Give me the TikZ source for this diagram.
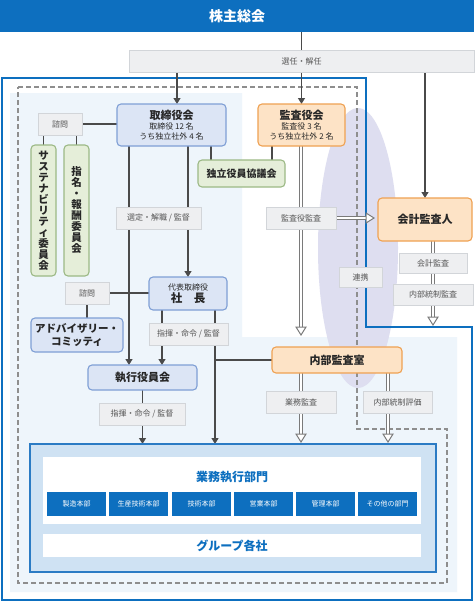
\documentclass[tikz,border=0pt]{standalone}
\usepackage{fontspec}
\setmainfont{Noto Sans CJK JP}
\usetikzlibrary{calc,arrows.meta}
\definecolor{mainblue}{HTML}{0D6FBF}
\definecolor{pale}{HTML}{EEF5FB}
\definecolor{lav}{HTML}{DEDEF0}
\definecolor{dashgray}{HTML}{8E8E8E}
\definecolor{lblfill}{HTML}{EEEFF1}
\definecolor{lbldraw}{HTML}{D2D5D9}
\definecolor{lbltxt}{HTML}{555555}
\definecolor{txt}{HTML}{262626}
\definecolor{bfill}{HTML}{DCE5F5}
\definecolor{bdraw}{HTML}{7F9FD5}
\definecolor{gfill}{HTML}{E5EED9}
\definecolor{gdraw}{HTML}{9CB985}
\definecolor{ofill}{HTML}{FDE3C6}
\definecolor{odraw}{HTML}{EFA152}
\definecolor{lineg}{HTML}{4A4A4A}
\definecolor{dblg}{HTML}{7A7A7A}
\definecolor{gyfill}{HTML}{CFE2F3}
\definecolor{gydraw}{HTML}{2B7BC4}
\pgfdeclarelayer{back}
\pgfdeclarelayer{bg}
\pgfsetlayers{back,bg,main}
\newcommand\hollowarr[2]{%
  \coordinate (has) at (#1);
  \coordinate (hae) at (#2);
  \coordinate (hab) at ($(hae)!8pt!(has)$);
  \draw[dbl] (has) -- (hab);
  \draw[htip] (hae) -- ($(hab)!5pt!90:(hae)$) -- ($(hab)!5pt!-90:(hae)$) -- cycle;}
\tikzset{
  sz/.style args={#1x#2}{minimum width=#1pt, minimum height=#2pt},
  base/.style={inner sep=0pt, outer sep=0pt, align=center, text=txt},
  lbl/.style={base, fill=lblfill, draw=lbldraw, line width=0.8pt, text=lbltxt, font=\fontsize{8}{9.5}\selectfont},
  bbox/.style={base, fill=bfill, draw=bdraw, line width=1.1pt, rounded corners=4pt},
  gbox/.style={base, fill=gfill, draw=gdraw, line width=1.1pt, rounded corners=4pt},
  obox/.style={base, fill=ofill, draw=odraw, line width=1.1pt, rounded corners=4pt},
  ttl/.style={font=\bfseries\fontsize{11}{13}\selectfont},
  vert/.style={font=\bfseries\fontsize{10.5}{11}\selectfont},
  dept/.style={base, fill=mainblue, text=white, sz=59x24, font=\fontsize{7}{8}\selectfont},
  ln/.style={draw=lineg, line width=1.2pt},
  arr/.style={ln, -{Triangle[length=6pt,width=7pt]}},
  dbl/.style={draw=dblg, line width=1pt, double=white, double distance=1.6pt},
  htip/.style={draw=dblg, line width=1pt, fill=white, line join=miter},
}
\begin{document}
\begin{tikzpicture}[x=1pt,y=-1pt]
\useasboundingbox (0,0) rectangle (474,602);
\begin{pgfonlayer}{back}
\fill[white] (0,0) rectangle (474,602);
\fill[pale] (10,93) -- (242,93) -- (242,337) -- (457,337) -- (457,592) -- (10,592) -- cycle;
\fill[lav] (358,248) ellipse [x radius=40, y radius=140];
\draw[mainblue, line width=2pt] (2,78) -- (366,78) -- (366,327) -- (472,327) -- (472,600) -- (2,600) -- cycle;
\draw[dashgray, line width=1.8pt, dash pattern=on 5pt off 3pt] (18,87) -- (357,87) -- (357,429) -- (447,429) -- (447,583) -- (18,583) -- cycle;
\end{pgfonlayer}

% top
\node[base, fill=mainblue, text=white, sz=474x32, font=\bfseries\fontsize{14}{16}\selectfont] (top) at (237,16) {株主総会};
\node[lbl, sz=345x22] (elect) at (301.5,61) {選任・解任};

% board side
\node[bbox, sz=109x42, font=\fontsize{8}{10}\selectfont] (board) at (171.5,125)
  {{\bfseries\fontsize{11}{13}\selectfont 取締役会}\\取締役 12 名\\うち独立社外 4 名};
\node[obox, sz=87x42, font=\fontsize{8}{10}\selectfont] (kansa) at (301.5,125)
  {{\bfseries\fontsize{11}{13}\selectfont 監査役会}\\監査役 3 名\\うち独立社外 2 名};
\node[lbl, sz=44x22] (shimon1) at (60,124) {諮問};
\node[gbox, sz=25x131, vert] (sus) at (43.5,210.5) {サ\\ス\\テ\\ナ\\ビ\\リ\\テ\\ィ\\委\\員\\会};
\node[gbox, sz=25x131, vert] (nom) at (76.5,210.5) {指\\名\\・\\報\\酬\\委\\員\\会};
\node[gbox, sz=87x27, font=\bfseries\fontsize{10}{12}\selectfont] (indep) at (241.5,173.5) {独立役員協議会};
\node[obox, sz=94x43, ttl] (audit) at (425,219.5) {会計監査人};

\node[lbl, sz=85x22] (lbl1) at (158.5,218) {選定・解職 / 監督};
\node[lbl, sz=70x22] (lbl2) at (301,218) {監査役監査};
\node[lbl, sz=68x20] (lbl3) at (433,263) {会計監査};
\node[lbl, sz=80x21] (lbl4) at (433,294.5) {内部統制監査};
\node[lbl, sz=43x20] (renkei) at (360.5,277) {連携};

\node[bbox, sz=78x33, font=\fontsize{8}{10}\selectfont] (pres) at (188,293.5)
  {代表取締役\\{\bfseries\fontsize{11.5}{13}\selectfont 社　長}};
\node[lbl, sz=44x22] (shimon2) at (87,293) {諮問};
\node[bbox, sz=92x34, font=\bfseries\fontsize{10.5}{12.5}\selectfont] (adv) at (77,335) {アドバイザリー・\\コミッティ};
\node[lbl, sz=79x22] (lbl5) at (188.5,334) {指揮・命令 / 監督};
\node[bbox, sz=109x25, ttl] (exec) at (142.5,377.5) {執行役員会};
\node[obox, sz=130x26, ttl] (naibu) at (337,360) {内部監査室};
\node[lbl, sz=86x22] (lbl6) at (142,414) {指揮・命令 / 監督};
\node[lbl, sz=70x22] (lbl7) at (301,402) {業務監査};
\node[lbl, sz=69x22] (lbl8) at (397.5,402) {内部統制評価};

% execution departments
\node[base, fill=gyfill, draw=gydraw, line width=1.1pt, sz=406x128] (gyomu) at (233,508) {};
\node[base, fill=white, sz=378x67] (inner) at (232,490.5) {};
\node[base, text=mainblue, font=\bfseries\fontsize{12}{14}\selectfont] (gtitle) at (232,477) {業務執行部門};
\node[dept] (d1) at (76.5,504) {製造本部};
\node[dept] (d2) at (138.5,504) {生産技術本部};
\node[dept] (d3) at (201.5,504) {技術本部};
\node[dept] (d4) at (263.5,504) {営業本部};
\node[dept] (d5) at (325.5,504) {管理本部};
\node[dept] (d6) at (387.5,504) {その他の部門};
\node[base, fill=white, sz=378x23, text=mainblue, font=\bfseries\fontsize{12}{14}\selectfont] (group) at (232,545.5) {グループ各社};

\begin{pgfonlayer}{bg}
% from shareholders
\draw[ln] (kansa |- top.south) -- (kansa |- elect.north);
\draw[arr] (177,0 |- elect.south) -- (177,0 |- board.north);
\draw[arr] (kansa |- elect.south) -- (kansa.north);
\draw[arr] (audit |- elect.south) -- (audit.north);
% advisory links
\draw[ln] (shimon1.east) -- (shimon1.east -| board.west);
\draw[ln] (sus |- shimon1.south) -- (sus.north);
\draw[ln] (nom |- shimon1.south) -- (nom.north);
\draw[ln] (211,0 |- board.south) -- (211,0 |- indep.north);
\draw[ln] (272,0 |- kansa.south) -- (272,0 |- indep.north);
% board to executives
\draw[arr] (129,0 |- board.south) -- (129,0 |- exec.north);
\draw[arr] (pres |- board.south) -- (pres.north);
\draw[ln] (shimon2.east) -- (shimon2.east -| pres.west);
\draw[ln] (shimon2.south) -- (shimon2.south |- adv.north);
\draw[arr] (162,0 |- pres.south) -- (162,0 |- exec.north);
\draw[arr] (215,0 |- pres.south) -- (215,0 |- gyomu.north);
\draw[ln] (215,0 |- naibu.west) -- (naibu.west);
\draw[arr] (exec.south) -- (exec.south |- gyomu.north);
% audit flows
\hollowarr{301,0 |- kansa.south}{$(301,0 |- naibu.north)+(0,-12)$}
\hollowarr{lbl2.east}{$(lbl2.east -| audit.west)+(-4,0)$}
\hollowarr{433,0 |- audit.south}{$(433,0 |- audit.south)+(0,84)$}
\hollowarr{301,0 |- naibu.south}{$(301,0 |- gyomu.north)+(0,-2)$}
\hollowarr{388,0 |- naibu.south}{$(388,0 |- gyomu.north)+(0,-2)$}
\end{pgfonlayer}
\end{tikzpicture}
\end{document}
